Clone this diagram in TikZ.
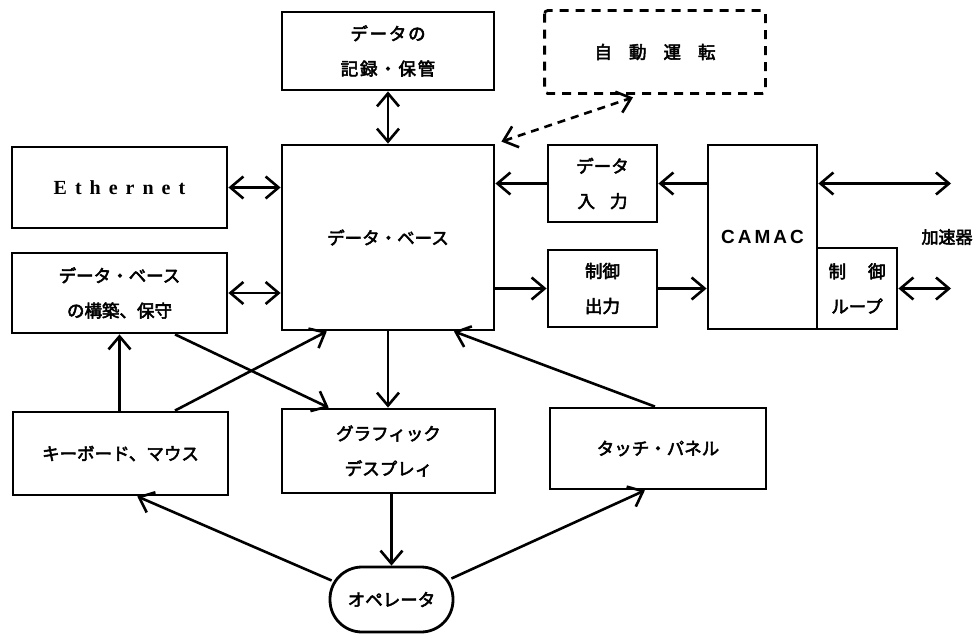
\documentclass[tikz,border=0pt]{standalone}
\usepackage{fontspec}
\usetikzlibrary{arrows.meta,calc}
\newfontfamily\jp{Noto Sans CJK JP}[FakeBold=3]
\newfontfamily\ethfont{Liberation Serif}[LetterSpace=40]
\newfontfamily\camfont{Liberation Sans}[LetterSpace=16]
\begin{document}
\begin{tikzpicture}[x=1pt,y=-1pt,
  >={Straight Barb[length=13pt,width=22pt]},
  box/.style={draw, line width=2.8pt, inner sep=0pt, align=center,
    font=\jp\fontsize{17.5}{35}\selectfont},
  conn/.style={line width=2.6pt},
  dconn/.style={line width=2.6pt, dash pattern=on 8pt off 6pt}
]
\useasboundingbox (0,0) rectangle (979,634);
% nodes
\node[box, minimum width=212pt, minimum height=78pt,
  font=\jp\addfontfeature{LetterSpace=10}\fontsize{17.5}{35}\selectfont] (rec) at (388,51) {データの\\記録・保管};
\node[box, minimum width=218pt, minimum height=80pt, draw=none] (auto) at (655,52) {自\hspace{17pt}動\hspace{17pt}運\hspace{17pt}転};
\draw[line width=2.8pt, dash pattern=on 9pt off 7pt, rounded corners=3pt]
  (auto.north west) rectangle (auto.south east);
\node[box, minimum width=212pt, minimum height=185pt] (db) at (388,237.5) {データ・ベース};
\node[box, minimum width=215pt, minimum height=81pt,
  font=\ethfont\bfseries\fontsize{20}{24}\selectfont] (eth) at (119.5,187.5) {Ethernet};
\node[box, minimum width=215pt, minimum height=80pt] (dbc) at (119.5,293) {データ・ベース\\の構築、保守};
\node[box, minimum width=109pt, minimum height=77pt] (din) at (602.5,183.5) {データ\\入\hspace{15pt}力};
\node[box, minimum width=109pt, minimum height=77pt] (cout) at (602.5,288.5) {制御\\出力};
\node[box, minimum width=109pt, minimum height=184pt,
  font=\camfont\bfseries\fontsize{19}{24}\selectfont] (camac) at (762.5,237) {CAMAC};
\node[box, minimum width=80pt, minimum height=81pt] (loop) at (857,288.5) {制\hspace{22pt}御\\ループ};
\node[box, minimum width=215pt, minimum height=83pt] (kb) at (120.5,453.5) {キーボード、マウス};
\node[box, minimum width=213pt, minimum height=84pt] (gd) at (388.5,451) {グラフィック\\デスプレィ};
\node[box, minimum width=216pt, minimum height=81pt] (tp) at (658,448.5) {タッチ・パネル};
\node[box, minimum width=123pt, minimum height=65pt, rounded corners=32pt] (op) at (391.5,599.5) {オペレータ};
\node[font=\jp\fontsize{17}{20}\selectfont, inner sep=0pt] (acc) at (947,237) {加速器};
\coordinate (acc1) at (951,183.5);
\coordinate (acc2) at (951,288.5);
% connectors
\draw[conn,<->] (rec.south) -- (db.north);
\draw[dconn,<->] ($(db.north east)+(6,-2)$) -- ($(auto.south)+(-22,4)$);
\draw[conn,<->] (eth.east) -- (eth.east -| db.west);
\draw[conn,<->] (dbc.east) -- (dbc.east -| db.west);
\draw[conn,->] (din.west) -- (din.west -| db.east);
\draw[conn,->] (camac.west |- din.west) -- (din.east);
\draw[conn,->] (db.east |- cout.west) -- (cout.west);
\draw[conn,->] (cout.east) -- (cout.east -| camac.west);
\draw[conn,<->] (camac.east |- acc1) -- (acc1);
\draw[conn,<->] (loop.east) -- (acc2);
\draw[conn,->] (db.south) -- (db.south |- gd.north);
\draw[conn,->] (kb.north -| dbc.south) -- (dbc.south);
\draw[conn,->] ($(kb.north west)!0.75!(kb.north east)$) -- ($(db.south west)!0.215!(db.south east)$);
\draw[conn,->] ($(dbc.south west)!0.755!(dbc.south east)$) -- ($(gd.north west)!0.223!(gd.north east)$);
\draw[conn,->] ($(tp.north west)!0.486!(tp.north east)$) -- ($(db.south west)!0.807!(db.south east)$);
\draw[conn,->] (gd.south -| op.north) -- (op.north);
\draw[conn,->] ($(op.west)+(3,-19)$) -- ($(kb.south west)!0.577!(kb.south east)$);
\draw[conn,->] ($(op.east)+(-3,-21)$) -- ($(tp.south west)!0.44!(tp.south east)$);
\end{tikzpicture}
\end{document}
